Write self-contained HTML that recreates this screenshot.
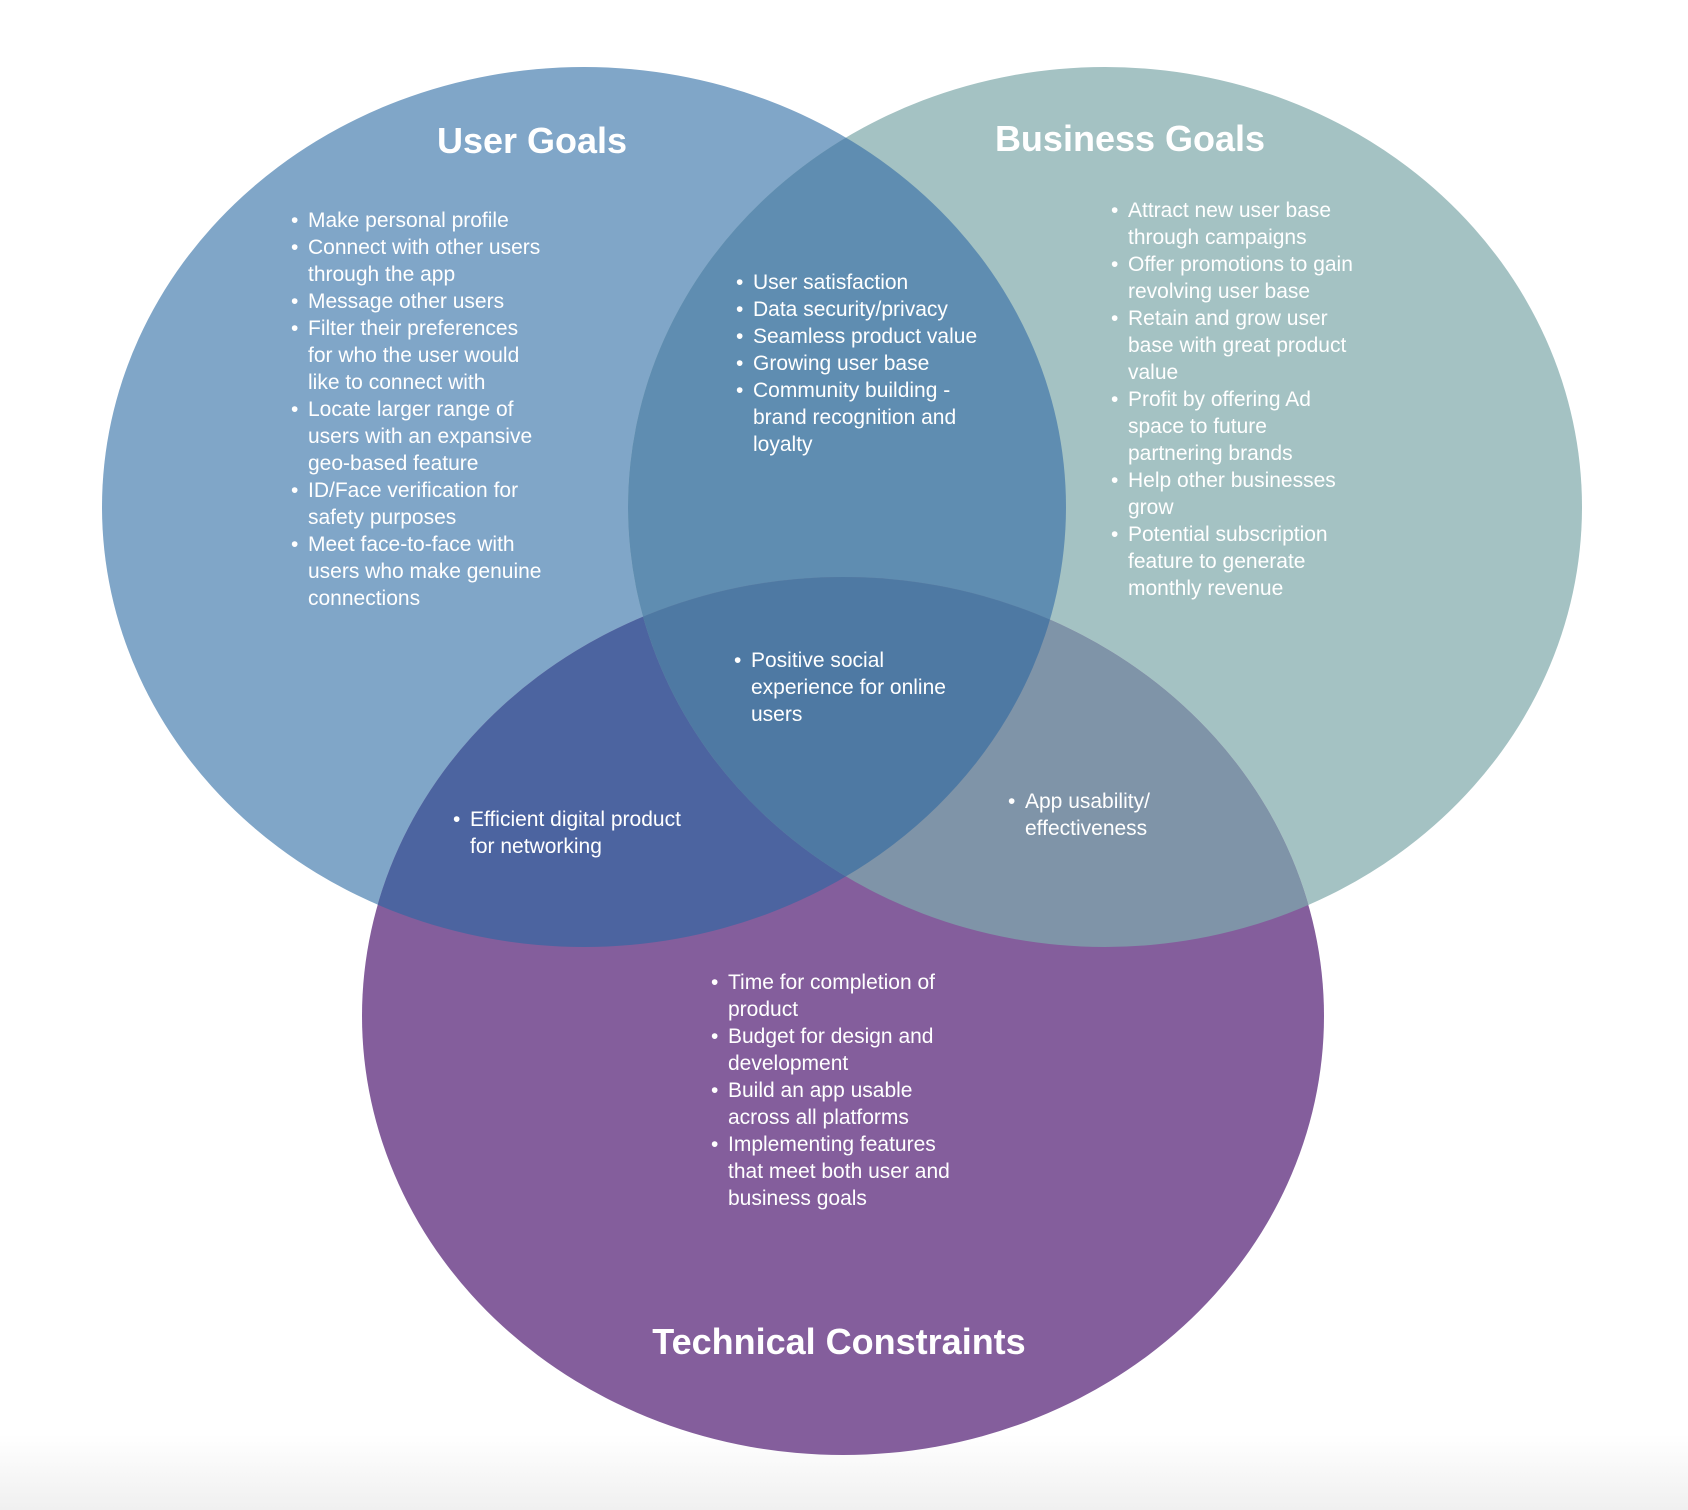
<!DOCTYPE html>
<html><head><meta charset="utf-8"><style>
html,body{margin:0;padding:0;background:#fff;}
svg{display:block;}
text{font-family:"Liberation Sans",sans-serif;fill:#fff;}
.t{font-size:21px;}
.h{font-size:36px;font-weight:bold;}
</style></head><body>
<svg width="1688" height="1510" viewBox="0 0 1688 1510" xmlns="http://www.w3.org/2000/svg">
<defs>
<linearGradient id="bg" x1="0" y1="0" x2="0" y2="1"><stop offset="0.95" stop-color="#fff"/><stop offset="1" stop-color="#f0f0f0"/></linearGradient>
<clipPath id="cu"><ellipse cx="584" cy="507" rx="482" ry="440"/></clipPath>
<clipPath id="cb"><ellipse cx="1105" cy="507" rx="477" ry="440"/></clipPath>
<clipPath id="cbu" clip-path="url(#cu)"><ellipse cx="1105" cy="507" rx="477" ry="440"/></clipPath>
</defs>
<rect width="1688" height="1510" fill="url(#bg)"/>
<ellipse cx="584" cy="507" rx="482" ry="440" fill="#80a6c8"/>
<ellipse cx="1105" cy="507" rx="477" ry="440" fill="#a4c2c3"/>
<ellipse cx="843" cy="1016" rx="481" ry="439" fill="#845e9c"/>
<ellipse cx="1105" cy="507" rx="477" ry="440" fill="#5f8db1" clip-path="url(#cu)"/>
<ellipse cx="843" cy="1016" rx="481" ry="439" fill="#4c64a0" clip-path="url(#cu)"/>
<ellipse cx="843" cy="1016" rx="481" ry="439" fill="#7f94a8" clip-path="url(#cb)"/>
<ellipse cx="843" cy="1016" rx="481" ry="439" fill="#4e79a3" clip-path="url(#cbu)"/>

<text class="h" x="532" y="153" text-anchor="middle">User Goals</text>
<text class="h" x="1130" y="151" text-anchor="middle">Business Goals</text>
<text class="h" x="839" y="1354" text-anchor="middle">Technical Constraints</text>

<g class="t">
<text x="291" y="227">•</text><text x="308" y="227">Make personal profile</text>
<text x="291" y="254">•</text><text x="308" y="254">Connect with other users</text>
<text x="308" y="281">through the app</text>
<text x="291" y="308">•</text><text x="308" y="308">Message other users</text>
<text x="291" y="335">•</text><text x="308" y="335">Filter their preferences</text>
<text x="308" y="362">for who the user would</text>
<text x="308" y="389">like to connect with</text>
<text x="291" y="416">•</text><text x="308" y="416">Locate larger range of</text>
<text x="308" y="443">users with an expansive</text>
<text x="308" y="470">geo-based feature</text>
<text x="291" y="497">•</text><text x="308" y="497">ID/Face verification for</text>
<text x="308" y="524">safety purposes</text>
<text x="291" y="551">•</text><text x="308" y="551">Meet face-to-face with</text>
<text x="308" y="578">users who make genuine</text>
<text x="308" y="605">connections</text>
</g>

<g class="t">
<text x="736" y="289">•</text><text x="753" y="289">User satisfaction</text>
<text x="736" y="316">•</text><text x="753" y="316">Data security/privacy</text>
<text x="736" y="343">•</text><text x="753" y="343">Seamless product value</text>
<text x="736" y="370">•</text><text x="753" y="370">Growing user base</text>
<text x="736" y="397">•</text><text x="753" y="397">Community building -</text>
<text x="753" y="424">brand recognition and</text>
<text x="753" y="451">loyalty</text>
</g>

<g class="t">
<text x="1111" y="217">•</text><text x="1128" y="217">Attract new user base</text>
<text x="1128" y="244">through campaigns</text>
<text x="1111" y="271">•</text><text x="1128" y="271">Offer promotions to gain</text>
<text x="1128" y="298">revolving user base</text>
<text x="1111" y="325">•</text><text x="1128" y="325">Retain and grow user</text>
<text x="1128" y="352">base with great product</text>
<text x="1128" y="379">value</text>
<text x="1111" y="406">•</text><text x="1128" y="406">Profit by offering Ad</text>
<text x="1128" y="433">space to future</text>
<text x="1128" y="460">partnering brands</text>
<text x="1111" y="487">•</text><text x="1128" y="487">Help other businesses</text>
<text x="1128" y="514">grow</text>
<text x="1111" y="541">•</text><text x="1128" y="541">Potential subscription</text>
<text x="1128" y="568">feature to generate</text>
<text x="1128" y="595">monthly revenue</text>
</g>

<g class="t">
<text x="734" y="667">•</text><text x="751" y="667">Positive social</text>
<text x="751" y="694">experience for online</text>
<text x="751" y="721">users</text>
</g>
<g class="t">
<text x="453" y="826">•</text><text x="470" y="826">Efficient digital product</text>
<text x="470" y="853">for networking</text>
</g>
<g class="t">
<text x="1008" y="808">•</text><text x="1025" y="808">App usability/</text>
<text x="1025" y="835">effectiveness</text>
</g>

<g class="t">
<text x="711" y="989">•</text><text x="728" y="989">Time for completion of</text>
<text x="728" y="1016">product</text>
<text x="711" y="1043">•</text><text x="728" y="1043">Budget for design and</text>
<text x="728" y="1070">development</text>
<text x="711" y="1097">•</text><text x="728" y="1097">Build an app usable</text>
<text x="728" y="1124">across all platforms</text>
<text x="711" y="1151">•</text><text x="728" y="1151">Implementing features</text>
<text x="728" y="1178">that meet both user and</text>
<text x="728" y="1205">business goals</text>
</g>
</svg>
</body></html>
